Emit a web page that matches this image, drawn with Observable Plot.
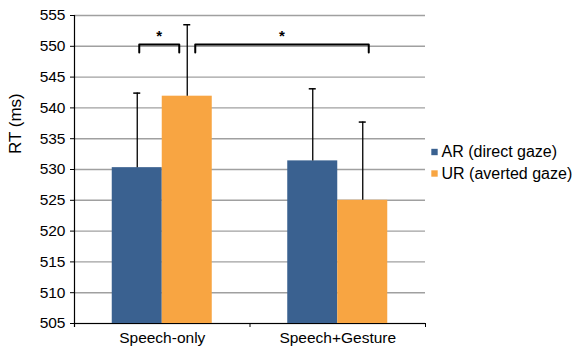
<!DOCTYPE html>
<html>
<head>
<meta charset="utf-8">
<script src="https://cdn.jsdelivr.net/npm/d3@7"></script>
<script src="https://cdn.jsdelivr.net/npm/@observablehq/plot@0.6"></script>
<style>
  html, body { margin: 0; padding: 0; background: #fff; }
</style>
</head>
<body>
<div id="chart"></div>
<script>
// ---- data ----
const categories = ["Speech-only", "Speech+Gesture"];
const series = ["AR (direct gaze)", "UR (averted gaze)"];
const arMeans = [530.3, 531.4];
const urMeans = [541.9, 525.0];
const arErrors = [12.1, 11.7];
const urErrors = [11.6, 12.7];
const yTicks = [505, 510, 515, 520, 525, 530, 535, 540, 545, 550, 555];
const colors = ["#3a6190", "#f8a542"];
// significance brackets: [category, seriesIndex] -> [category, seriesIndex]
const sigFrom = [["Speech-only", 0], ["Speech-only", 1]];
const sigTo = [["Speech-only", 1], ["Speech+Gesture", 1]];
const sigLabels = ["*", "*"];
const bracketLevel = 550.3, bracketLeg = 549.0, starLevel = 551.6;

// ---- layout constants ----
const W = 572, H = 350;
const mL = 74, mR = 147, mT = 15, mB = 27;
const pxPerUnit = (W - mL - mR) / categories.length;
const barW = 50 / pxPerUnit;
const capHalf = 3.5 / pxPerUnit;
const bracketNudge = [[2, -8], [8, 6]].map(p => p.map(v => v / pxPerUnit));

const means = [arMeans, urMeans];
const errs = [arErrors, urErrors];
const center = (cat, j) => categories.indexOf(cat) + 0.5 + (j - 0.5) * barW;

const rows = [];
categories.forEach((c, i) => {
  series.forEach((s, j) => {
    rows.push({cat: c, series: s, j, mean: means[j][i], err: errs[j][i],
      x1: i + 0.5 + (j - 1) * barW, x2: i + 0.5 + j * barW, cx: center(c, j)});
  });
});

const bracketPts = [];
const stars = [];
sigFrom.forEach((f, k) => {
  const a = center(f[0], f[1]) + bracketNudge[k][0];
  const b = center(sigTo[k][0], sigTo[k][1]) + bracketNudge[k][1];
  bracketPts.push({k, x: a, y: bracketLeg}, {k, x: a, y: bracketLevel},
                  {k, x: b, y: bracketLevel}, {k, x: b, y: bracketLeg});
  stars.push({x: (a + b) / 2, y: starLevel, t: sigLabels[k]});
});

const font = "Liberation Sans, Arial, sans-serif";
const fs = 15.5;

const legendMarks = [];
series.forEach((s, j) => {
  const dy = -17.5 + j * 21.5;
  legendMarks.push(
    Plot.dot([s], {frameAnchor: "right", dx: 9, dy, symbol: "square", r: 3.6, fill: colors[j], stroke: null}),
    Plot.text([s], {frameAnchor: "right", dx: 16, dy, text: d => d, textAnchor: "start", fontSize: 16, fill: "#000"})
  );
});

const chart = Plot.plot({
  width: W, height: H,
  marginLeft: mL, marginRight: mR, marginTop: mT, marginBottom: mB,
  style: {fontFamily: font, background: "#fff", color: "#000", overflow: "visible"},
  x: {domain: [0, categories.length], axis: null},
  y: {domain: [505, 555], axis: null},
  color: {domain: series, range: colors},
  marks: [
    Plot.gridY(yTicks, {stroke: "#a0a0a0", strokeOpacity: 1, strokeWidth: 1.4}),
    Plot.rectY(rows, {x1: "x1", x2: "x2", y1: 505, y2: "mean", fill: "series"}),
    Plot.ruleX(rows, {x: "cx", y1: "mean", y2: d => d.mean + d.err, stroke: "#000", strokeWidth: 1.3}),
    Plot.ruleY(rows, {x1: d => d.cx - capHalf, x2: d => d.cx + capHalf, y: d => d.mean + d.err, stroke: "#000", strokeWidth: 1.5}),
    Plot.line(bracketPts, {x: "x", y: "y", z: "k", stroke: "#000", strokeWidth: 2}),
    Plot.text(stars, {x: "x", y: "y", text: "t", fontSize: 15, fontWeight: "bold", fill: "#000"}),
    // axes
    Plot.axisY(yTicks, {tickSize: 4, tickPadding: 5, fontSize: fs, stroke: "#000", label: null, tickFormat: d => d}),
    Plot.ruleX([0], {stroke: "#000", strokeWidth: 1.2, insetBottom: -4}),
    Plot.ruleY([505], {stroke: "#000", strokeWidth: 1.2}),
    Plot.axisX(d3.range(categories.length + 1), {tickSize: 4, tickFormat: () => "", stroke: "#000", label: null}),
    Plot.axisX(categories.map((c, i) => i + 0.5), {tickSize: 0, tickPadding: 8, fontSize: fs, tickFormat: v => categories[Math.floor(v)], label: null}),
    Plot.text(["RT (ms)"], {frameAnchor: "left", dx: -59, dy: -15.5, rotate: -90, fontSize: 17, fill: "#000", text: d => d}),
    ...legendMarks
  ]
});
document.getElementById("chart").appendChild(chart);
</script>
</body>
</html>
